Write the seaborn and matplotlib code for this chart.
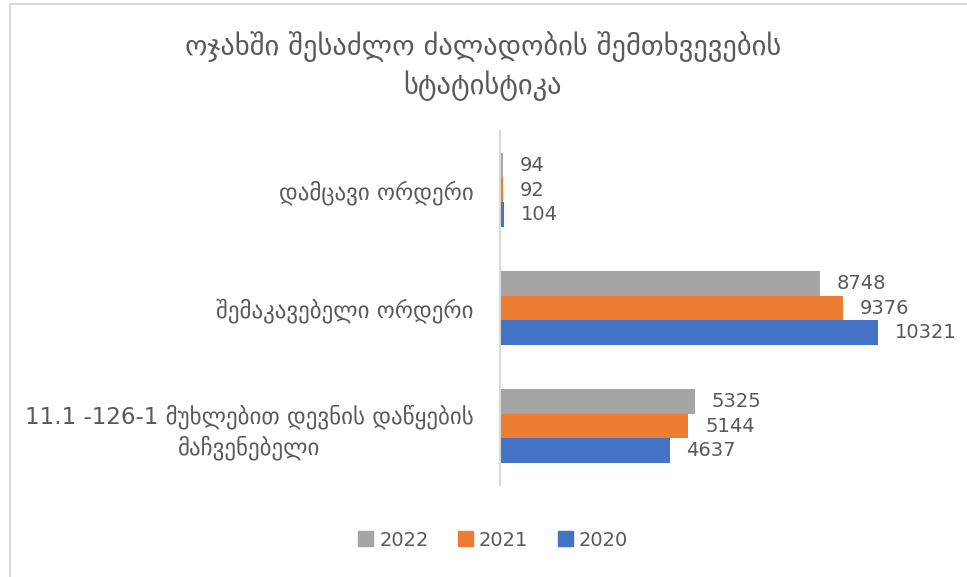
import pandas as pd
import matplotlib
matplotlib.use("Agg")
import matplotlib.pyplot as plt
from matplotlib.lines import Line2D
import seaborn as sns

categories = ["დამცავი ორდერი",
              "შემაკავებელი ორდერი",
              "11.1 -126-1 მუხლებით დევნის დაწყების\nმაჩვენებელი"]
years = ["2022", "2021", "2020"]
values_2022 = [94, 8748, 5325]
values_2021 = [92, 9376, 5144]
values_2020 = [104, 10321, 4637]
title = "ოჯახში შესაძლო ძალადობის შემთხვევების\nსტატისტიკა"

colors = ["#A5A5A5", "#ED7D31", "#4472C4"]
txt = "#595959"

rows = []
for yr, vals in zip(years, [values_2022, values_2021, values_2020]):
    for cat, v in zip(categories, vals):
        rows.append({"category": cat, "year": yr, "value": v})
df = pd.DataFrame(rows)

sns.set_style("white")
plt.rcParams["font.family"] = ["DejaVu Sans"]

fig = plt.figure(figsize=(9.67, 5.77), dpi=100)
ax = fig.add_axes([500/967, 1-485/577, 439.5/967, 354/577])

sns.barplot(data=df, x="value", y="category", hue="year", hue_order=years,
            order=categories, palette=colors, width=0.625, linewidth=0,
            saturation=1, ax=ax, legend=False)

for c in ax.containers:
    ax.bar_label(c, padding=12, fontsize=14, color=txt)

ax.set_xlim(0, 12000)
ax.set_ylim(2.5, -0.5)
ax.set_xlabel("")
ax.set_ylabel("")
ax.set_xticks([])
ax.tick_params(axis="y", length=0, pad=19, labelsize=16.5, labelcolor=txt)
for t in ax.get_yticklabels():
    t.set_multialignment("center")
    t.set_linespacing(1.35)
for s in ["top", "right", "bottom"]:
    ax.spines[s].set_visible(False)
ax.spines["left"].set_color("#d9d9d9")
ax.spines["left"].set_linewidth(1.5)

fig.text(483/967, 1-66/577, title, ha="center", va="center", fontsize=20.5,
         color=txt, linespacing=1.33)

handles = [plt.Rectangle((0, 0), 1, 1, color=c) for c in colors]
fig.legend(handles, years, loc="center", bbox_to_anchor=(493/967, 1-540/577),
           ncol=3, frameon=False, fontsize=14, labelcolor=txt,
           handlelength=0.8, handleheight=0.8, handletextpad=0.3,
           columnspacing=1.5)

# chart frame (only left and top edges are visible)
fig.add_artist(Line2D([9.5/967, 9.5/967, 1], [0, 1-4/577, 1-4/577],
                      transform=fig.transFigure, color="#d9d9d9", lw=1.5))

fig.savefig("out.png", dpi=100)
